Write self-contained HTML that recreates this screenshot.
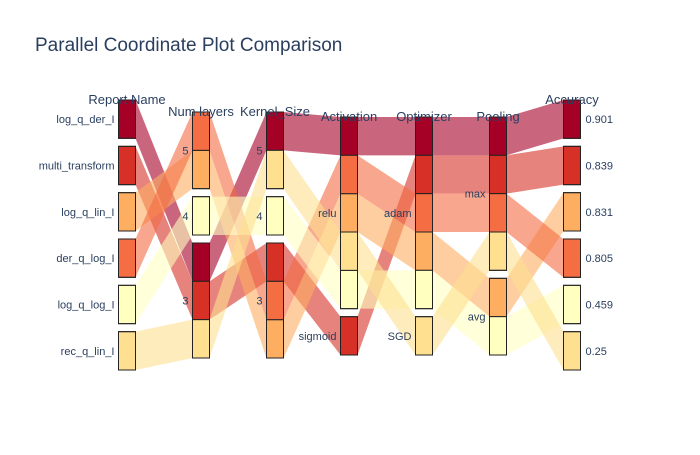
<!DOCTYPE html>
<html><head><meta charset="utf-8"><style>
body{margin:0;background:#fff;}
svg text{font-family:"Liberation Sans",sans-serif;fill:#2a3f5f;}
</style></head><body>
<svg id="chart" width="700" height="450">
<rect width="700" height="450" fill="#fff"/>
<text x="35" y="51" font-size="19">Parallel Coordinate Plot Comparison</text>
<g id="ribbons"></g>
<g id="axes"></g>
</svg>
<script>
const dimNames = ["Report Name","Num layers","Kernel_Size","Activation","Optimizer","Pooling","Accuracy"];
const reportNames = ["log_q_der_I","multi_transform","log_q_lin_I","der_q_log_I","log_q_log_I","rec_q_lin_I"];
const numLayers = ["3","3","5","5","4","3"];
const kernelSize = ["5","3","3","3","4","5"];
const activation = ["relu","sigmoid","relu","relu","relu","relu"];
const optimizer = ["adam","adam","adam","adam","adam","SGD"];
const pooling = ["max","max","avg","max","avg","max"];
const accuracy = ["0.901","0.839","0.831","0.805","0.459","0.25"];
const accuracyValues = [0.901,0.839,0.831,0.805,0.459,0.25];
const catOrders = [
  ["log_q_der_I","multi_transform","log_q_lin_I","der_q_log_I","log_q_log_I","rec_q_lin_I"],
  ["5","4","3"],["5","4","3"],["relu","sigmoid"],["adam","SGD"],["max","avg"],
  ["0.901","0.839","0.831","0.805","0.459","0.25"]];
// stacking order of records within each dimension
const stackOrders = [[0,1,2,3,4,5],[3,2,4,0,1,5],[0,5,4,1,3,2],[0,3,2,5,4,1],[0,1,3,2,4,5],[0,1,3,5,2,4],[0,1,2,3,4,5]];
const dims = [reportNames,numLayers,kernelSize,activation,optimizer,pooling,accuracy];

const colorStops = [[0.25,"#fee090"],[0.459,"#ffffbf"],[0.805,"#f46d43"],[0.831,"#fdae61"],[0.839,"#d73027"],[0.901,"#a50026"]];
function colorOf(v){let best=colorStops[0];for(const s of colorStops){if(Math.abs(s[0]-v)<Math.abs(best[0]-v))best=s;}return best[1];}

const xs=[127,201,275,349,424,498,572], tops=[100,112,112,117,117,117,100], bottoms=[370,358,358,355,355,355,370];
const bw=17, gap=8;
const NS="http://www.w3.org/2000/svg";
function mk(t,a){const e=document.createElementNS(NS,t);for(const k in a)e.setAttribute(k,a[k]);return e;}
const rib=document.getElementById('ribbons'), ax=document.getElementById('axes');
const n=reportNames.length;
const recY=[];
dims.forEach((vals,d)=>{
  const cats=catOrders[d].filter(c=>vals.includes(c));
  const h=(bottoms[d]-tops[d]-gap*(cats.length-1))/n;
  let y=tops[d]; const ys=new Array(n); const boxes=[];
  cats.forEach(c=>{
    const y0=y;
    stackOrders[d].filter(i=>vals[i]===c).forEach(i=>{ys[i]=y;y+=h;});
    boxes.push({c,y0,y1:y}); y+=gap;
  });
  recY.push({ys,h,boxes});
});
for(let d=0;d<dims.length-1;d++){
  for(let i=0;i<n;i++){
    const x0=xs[d]+bw/2,x1=xs[d+1]-bw/2,a=recY[d].ys[i],b=recY[d+1].ys[i],h0=recY[d].h,h1=recY[d+1].h;
    const p=mk('path',{d:`M${x0},${a} L${x1},${b} L${x1},${b+h1} L${x0},${a+h0}Z`,fill:colorOf(accuracyValues[i]),'fill-opacity':0.6});
    
    
    rib.appendChild(p);
  }
}
dims.forEach((vals,d)=>{
  const g=mk('g',{});
  
  
  ax.appendChild(g);
  const {ys,h,boxes}=recY[d];
  for(let i=0;i<n;i++){
    const r=mk('rect',{x:xs[d]-bw/2,y:ys[i],width:bw,height:h,fill:colorOf(accuracyValues[i]),stroke:'#222','stroke-width':1});
    
    
    g.appendChild(r);
  }
  boxes.forEach(b=>{
    const r=mk('rect',{x:xs[d]-bw/2,y:b.y0,width:bw,height:b.y1-b.y0,fill:'none',stroke:'#222','stroke-width':1});
    
    
    g.appendChild(r);
    const last=d===dims.length-1;
    const t=mk('text',{x:last?xs[d]+bw/2+5:xs[d]-bw/2-4,y:(b.y0+b.y1)/2+4,'font-size':11,'text-anchor':last?'start':'end'});
    t.textContent=b.c;
    
    
    g.appendChild(t);
  });
  const tt=mk('text',{x:xs[d],y:tops[d]+4,'font-size':13,'text-anchor':'middle'});
  tt.textContent=dimNames[d];
  
  
  g.appendChild(tt);
});
</script>
</body></html>
